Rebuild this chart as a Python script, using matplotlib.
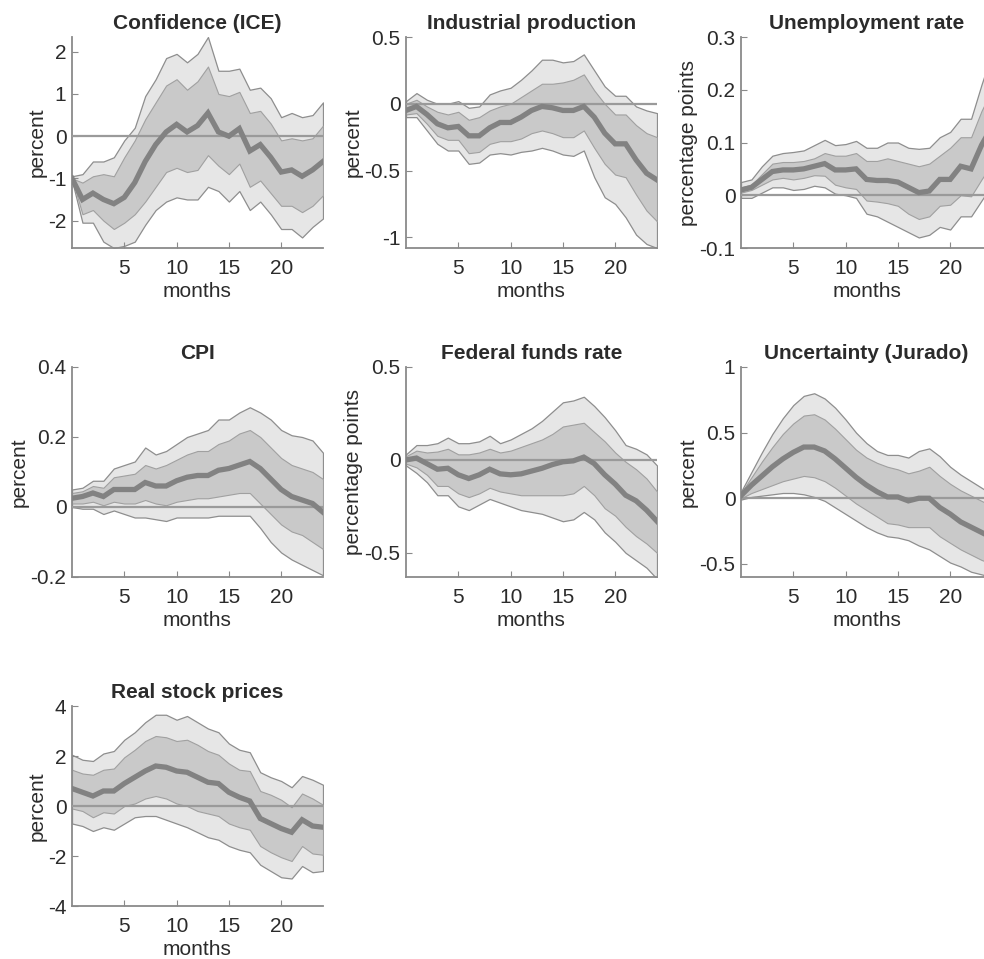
import numpy as np
import matplotlib
matplotlib.use("Agg")
import matplotlib.pyplot as plt

plt.rcParams['font.family'] = ['Liberation Sans', 'DejaVu Sans']

months = np.arange(0, 25)

titles = ["Confidence (ICE)", "Industrial production", "Unemployment rate",
          "CPI", "Federal funds rate", "Uncertainty (Jurado)", "Real stock prices"]
ylabels = ["percent", "percent", "percentage points",
           "percent", "percentage points", "percent", "percent"]
ylims = [(-2.65, 2.35), (-1.08, 0.5), (-0.1, 0.3),
         (-0.2, 0.4), (-0.63, 0.5), (-0.6, 1.0), (-4, 4)]
yticks = [[-2, -1, 0, 1, 2], [-1, -0.5, 0, 0.5], [-0.1, 0, 0.1, 0.2, 0.3],
          [-0.2, 0, 0.2, 0.4], [-0.5, 0, 0.5], [-0.5, 0, 0.5, 1], [-4, -2, 0, 2, 4]]
yticklabels = [["-2", "-1", "0", "1", "2"], ["-1", "-0.5", "0", "0.5"],
               ["-0.1", "0", "0.1", "0.2", "0.3"], ["-0.2", "0", "0.2", "0.4"],
               ["-0.5", "0", "0.5"], ["-0.5", "0", "0.5", "1"], ["-4", "-2", "0", "2", "4"]]

# Confidence (ICE)
conf_med = [-1.0, -1.5, -1.35, -1.5, -1.6, -1.45, -1.1, -0.6, -0.2, 0.1, 0.28, 0.1, 0.25, 0.55,
            0.1, 0.0, 0.18, -0.35, -0.2, -0.5, -0.85, -0.8, -0.95, -0.8, -0.6]
conf_in_hi = [-1.0, -1.1, -0.95, -0.9, -0.95, -0.5, -0.1, 0.4, 0.8, 1.2, 1.35, 1.1, 1.3, 1.65,
              1.0, 0.95, 1.05, 0.55, 0.6, 0.3, -0.1, -0.05, -0.1, -0.05, 0.25]
conf_in_lo = [-1.0, -1.85, -1.75, -2.0, -2.2, -2.05, -1.85, -1.55, -1.2, -0.85, -0.75, -0.85, -0.8,
              -0.45, -0.7, -0.9, -0.65, -1.2, -1.05, -1.35, -1.65, -1.65, -1.8, -1.65, -1.4]
conf_out_hi = [-0.95, -0.9, -0.6, -0.6, -0.5, -0.1, 0.2, 0.95, 1.35, 1.85, 1.95, 1.75, 1.95, 2.35,
               1.55, 1.55, 1.6, 1.1, 1.15, 0.9, 0.45, 0.55, 0.45, 0.5, 0.8]
conf_out_lo = [-1.05, -2.05, -2.05, -2.5, -2.65, -2.6, -2.5, -2.1, -1.75, -1.55, -1.45, -1.5, -1.5,
               -1.2, -1.3, -1.55, -1.3, -1.75, -1.55, -1.85, -2.2, -2.2, -2.4, -2.15, -1.95]

# Industrial production
ip_med = [-0.05, -0.02, -0.08, -0.15, -0.18, -0.17, -0.24, -0.24, -0.18, -0.14, -0.14, -0.1, -0.05,
          -0.02, -0.03, -0.05, -0.05, -0.02, -0.1, -0.22, -0.3, -0.3, -0.42, -0.52, -0.57]
ip_in_hi = [0.0, 0.03, -0.02, -0.06, -0.08, -0.06, -0.12, -0.1, -0.05, -0.02, 0.0, 0.05, 0.1, 0.15,
            0.15, 0.16, 0.18, 0.22, 0.1, 0.0, -0.08, -0.08, -0.16, -0.22, -0.25]
ip_in_lo = [-0.08, -0.07, -0.15, -0.24, -0.27, -0.27, -0.37, -0.36, -0.3, -0.28, -0.28, -0.26, -0.22,
            -0.2, -0.22, -0.25, -0.25, -0.2, -0.33, -0.45, -0.53, -0.55, -0.68, -0.8, -0.88]
ip_out_hi = [0.02, 0.08, 0.03, 0.0, 0.0, 0.02, -0.03, -0.02, 0.07, 0.1, 0.12, 0.18, 0.25, 0.33,
             0.33, 0.31, 0.32, 0.37, 0.25, 0.13, 0.06, 0.06, -0.02, -0.05, -0.07]
ip_out_lo = [-0.1, -0.1, -0.2, -0.3, -0.35, -0.35, -0.45, -0.44, -0.38, -0.37, -0.38, -0.36, -0.35,
             -0.33, -0.35, -0.38, -0.39, -0.35, -0.55, -0.7, -0.75, -0.85, -0.98, -1.05, -1.08]

# Unemployment rate
ur_med = [0.01, 0.015, 0.03, 0.045, 0.048, 0.048, 0.05, 0.055, 0.06, 0.048, 0.048, 0.05, 0.03,
          0.028, 0.028, 0.025, 0.015, 0.005, 0.008, 0.03, 0.03, 0.055, 0.05, 0.095, 0.13]
ur_in_hi = [0.015, 0.02, 0.04, 0.06, 0.063, 0.063, 0.065, 0.07, 0.08, 0.075, 0.075, 0.08, 0.065,
            0.065, 0.07, 0.065, 0.06, 0.055, 0.06, 0.075, 0.09, 0.11, 0.11, 0.16, 0.2]
ur_in_lo = [0.005, 0.01, 0.02, 0.03, 0.033, 0.03, 0.033, 0.038, 0.037, 0.02, 0.015, 0.012, -0.01,
            -0.012, -0.015, -0.02, -0.035, -0.045, -0.04, -0.02, -0.018, 0.0, -0.002, 0.03, 0.06]
ur_out_hi = [0.025, 0.03, 0.055, 0.075, 0.08, 0.082, 0.085, 0.095, 0.105, 0.095, 0.097, 0.103, 0.09,
             0.09, 0.1, 0.1, 0.09, 0.088, 0.09, 0.11, 0.12, 0.145, 0.145, 0.21, 0.27]
ur_out_lo = [-0.005, -0.005, 0.005, 0.015, 0.015, 0.01, 0.012, 0.018, 0.015, 0.003, 0.0, -0.005,
             -0.035, -0.04, -0.05, -0.06, -0.07, -0.08, -0.075, -0.06, -0.065, -0.04, -0.04, -0.01, 0.02]

# CPI
cpi_med = [0.025, 0.03, 0.04, 0.03, 0.05, 0.05, 0.05, 0.07, 0.06, 0.06, 0.075, 0.085, 0.09, 0.09,
           0.105, 0.11, 0.12, 0.13, 0.11, 0.08, 0.05, 0.03, 0.02, 0.01, -0.015]
cpi_in_hi = [0.04, 0.045, 0.06, 0.055, 0.085, 0.09, 0.095, 0.12, 0.11, 0.12, 0.135, 0.15, 0.16, 0.16,
             0.18, 0.19, 0.21, 0.22, 0.2, 0.17, 0.14, 0.12, 0.11, 0.1, 0.08]
cpi_in_lo = [0.01, 0.01, 0.015, 0.005, 0.015, 0.01, 0.01, 0.02, 0.01, 0.005, 0.015, 0.02, 0.025,
             0.025, 0.03, 0.035, 0.04, 0.04, 0.01, -0.02, -0.05, -0.07, -0.08, -0.1, -0.12]
cpi_out_hi = [0.05, 0.055, 0.075, 0.075, 0.11, 0.12, 0.13, 0.17, 0.15, 0.16, 0.18, 0.2, 0.21, 0.22,
              0.25, 0.25, 0.27, 0.285, 0.27, 0.25, 0.22, 0.205, 0.2, 0.19, 0.155]
cpi_out_lo = [0.0, -0.005, -0.005, -0.02, -0.01, -0.02, -0.03, -0.03, -0.035, -0.04, -0.03, -0.03,
              -0.03, -0.03, -0.025, -0.025, -0.025, -0.025, -0.06, -0.1, -0.13, -0.15, -0.165, -0.18, -0.195]

# Federal funds rate
ffr_med = [0.0, 0.01, -0.02, -0.05, -0.045, -0.08, -0.1, -0.08, -0.05, -0.075, -0.08, -0.075, -0.06,
           -0.045, -0.025, -0.01, -0.005, 0.015, -0.02, -0.08, -0.13, -0.19, -0.22, -0.27, -0.33]
ffr_in_hi = [0.02, 0.05, 0.04, 0.045, 0.06, 0.03, 0.03, 0.04, 0.06, 0.04, 0.05, 0.07, 0.09, 0.11,
             0.14, 0.18, 0.19, 0.2, 0.15, 0.1, 0.04, -0.01, -0.05, -0.1, -0.17]
ffr_in_lo = [-0.02, -0.04, -0.08, -0.14, -0.14, -0.18, -0.2, -0.18, -0.15, -0.17, -0.18, -0.19, -0.19,
             -0.19, -0.19, -0.19, -0.18, -0.14, -0.19, -0.26, -0.3, -0.36, -0.41, -0.45, -0.5]
ffr_out_hi = [0.03, 0.08, 0.08, 0.09, 0.12, 0.09, 0.09, 0.1, 0.13, 0.09, 0.11, 0.14, 0.17, 0.21,
              0.26, 0.31, 0.32, 0.34, 0.29, 0.23, 0.16, 0.08, 0.06, 0.03, -0.03]
ffr_out_lo = [-0.03, -0.07, -0.12, -0.19, -0.19, -0.25, -0.27, -0.24, -0.21, -0.23, -0.25, -0.27,
              -0.28, -0.29, -0.31, -0.33, -0.32, -0.28, -0.32, -0.39, -0.44, -0.5, -0.54, -0.58, -0.64]

# Uncertainty (Jurado)
unc_med = [0.02, 0.1, 0.17, 0.24, 0.3, 0.35, 0.39, 0.39, 0.36, 0.3, 0.23, 0.16, 0.1, 0.05, 0.01,
           0.01, -0.02, 0.0, 0.0, -0.07, -0.12, -0.18, -0.22, -0.26, -0.3]
unc_in_hi = [0.04, 0.16, 0.28, 0.39, 0.49, 0.57, 0.63, 0.64, 0.6, 0.53, 0.45, 0.37, 0.31, 0.27, 0.24,
             0.22, 0.19, 0.21, 0.24, 0.17, 0.11, 0.06, 0.02, -0.02, -0.06]
unc_in_lo = [0.0, 0.04, 0.07, 0.1, 0.13, 0.15, 0.17, 0.16, 0.13, 0.08, 0.02, -0.04, -0.09, -0.14,
             -0.19, -0.2, -0.22, -0.22, -0.22, -0.29, -0.34, -0.39, -0.43, -0.47, -0.5]
unc_out_hi = [0.05, 0.2, 0.35, 0.49, 0.61, 0.71, 0.78, 0.8, 0.76, 0.69, 0.6, 0.5, 0.42, 0.36, 0.33,
              0.33, 0.31, 0.36, 0.38, 0.32, 0.24, 0.18, 0.13, 0.08, 0.03]
unc_out_lo = [-0.01, 0.01, 0.02, 0.03, 0.04, 0.04, 0.03, 0.01, -0.02, -0.07, -0.12, -0.17, -0.22,
              -0.26, -0.29, -0.3, -0.32, -0.36, -0.39, -0.44, -0.49, -0.52, -0.56, -0.58, -0.6]

# Real stock prices
stk_med = [0.7, 0.55, 0.4, 0.6, 0.6, 0.9, 1.15, 1.4, 1.6, 1.55, 1.4, 1.35, 1.15, 0.95, 0.9, 0.55,
           0.35, 0.2, -0.5, -0.7, -0.9, -1.05, -0.55, -0.8, -0.85]
stk_in_hi = [1.45, 1.3, 1.25, 1.45, 1.5, 1.95, 2.25, 2.6, 2.8, 2.75, 2.6, 2.65, 2.45, 2.2, 2.05, 1.7,
             1.45, 1.4, 0.6, 0.45, 0.25, -0.05, 0.5, 0.3, 0.05]
stk_in_lo = [-0.1, -0.2, -0.45, -0.25, -0.3, 0.0, 0.1, 0.3, 0.4, 0.3, 0.1, 0.0, -0.2, -0.3, -0.4,
             -0.7, -0.85, -0.95, -1.6, -1.85, -2.05, -2.2, -1.6, -1.9, -1.95]
stk_out_hi = [2.05, 1.85, 1.8, 2.1, 2.2, 2.65, 2.95, 3.35, 3.65, 3.65, 3.45, 3.6, 3.35, 3.1, 2.95,
              2.5, 2.25, 2.15, 1.35, 1.15, 1.0, 0.75, 1.2, 1.05, 0.85]
stk_out_lo = [-0.7, -0.8, -1.0, -0.85, -0.95, -0.7, -0.45, -0.4, -0.4, -0.55, -0.7, -0.85, -1.05,
              -1.25, -1.35, -1.6, -1.75, -1.85, -2.35, -2.6, -2.85, -2.9, -2.4, -2.65, -2.6]

series = [
    (conf_med, conf_in_lo, conf_in_hi, conf_out_lo, conf_out_hi),
    (ip_med, ip_in_lo, ip_in_hi, ip_out_lo, ip_out_hi),
    (ur_med, ur_in_lo, ur_in_hi, ur_out_lo, ur_out_hi),
    (cpi_med, cpi_in_lo, cpi_in_hi, cpi_out_lo, cpi_out_hi),
    (ffr_med, ffr_in_lo, ffr_in_hi, ffr_out_lo, ffr_out_hi),
    (unc_med, unc_in_lo, unc_in_hi, unc_out_lo, unc_out_hi),
    (stk_med, stk_in_lo, stk_in_hi, stk_out_lo, stk_out_hi),
]

W, H = 984, 959
fig = plt.figure(figsize=(W / 100, H / 100), dpi=100)

col_left = [72, 406, 741]
row_top = [37, 367, 706]
row_bot = [248, 577, 906]
ax_w = 251

text_col = '#2b2b2b'
axis_col = '#8a8a8a'
fs = 15

for i, (title, ylab) in enumerate(zip(titles, ylabels)):
    r, c = divmod(i, 3)
    left = col_left[c] / W
    bottom = (H - row_bot[r]) / H
    height = (row_bot[r] - row_top[r]) / H
    ax = fig.add_axes([left, bottom, ax_w / W, height])
    med, ilo, ihi, olo, ohi = series[i]
    ax.fill_between(months, olo, ohi, facecolor='#e6e6e6', edgecolor='#8e8e8e', linewidth=0.9, zorder=1)
    ax.fill_between(months, ilo, ihi, facecolor='#c9c9c9', edgecolor='#a0a0a0', linewidth=0.8, zorder=2)
    ax.axhline(0, color='#9a9a9a', linewidth=1.6, zorder=3)
    ax.plot(months, med, color='#828282', linewidth=3.8, zorder=4, solid_joinstyle='miter')
    ax.set_xlim(0, 24)
    ax.set_ylim(*ylims[i])
    ax.set_xticks([5, 10, 15, 20])
    ax.set_yticks(yticks[i])
    ax.set_yticklabels(yticklabels[i])
    ax.spines['top'].set_visible(False)
    ax.spines['right'].set_visible(False)
    for s in ('left', 'bottom'):
        ax.spines[s].set_color(axis_col)
        ax.spines[s].set_linewidth(1.3)
    ax.tick_params(direction='in', length=4, width=0.8, color=axis_col,
                   labelsize=fs, labelcolor=text_col)
    ax.tick_params(axis='x', pad=8)
    ax.tick_params(axis='y', pad=4)
    ax.set_title(title, fontsize=fs, fontweight='bold', color=text_col, pad=5.5)
    ax.set_xlabel('months', fontsize=fs, color=text_col, labelpad=3)
    ax.set_ylabel(ylab, fontsize=fs, color=text_col, labelpad=1)

fig.savefig('out.png', dpi=100)
